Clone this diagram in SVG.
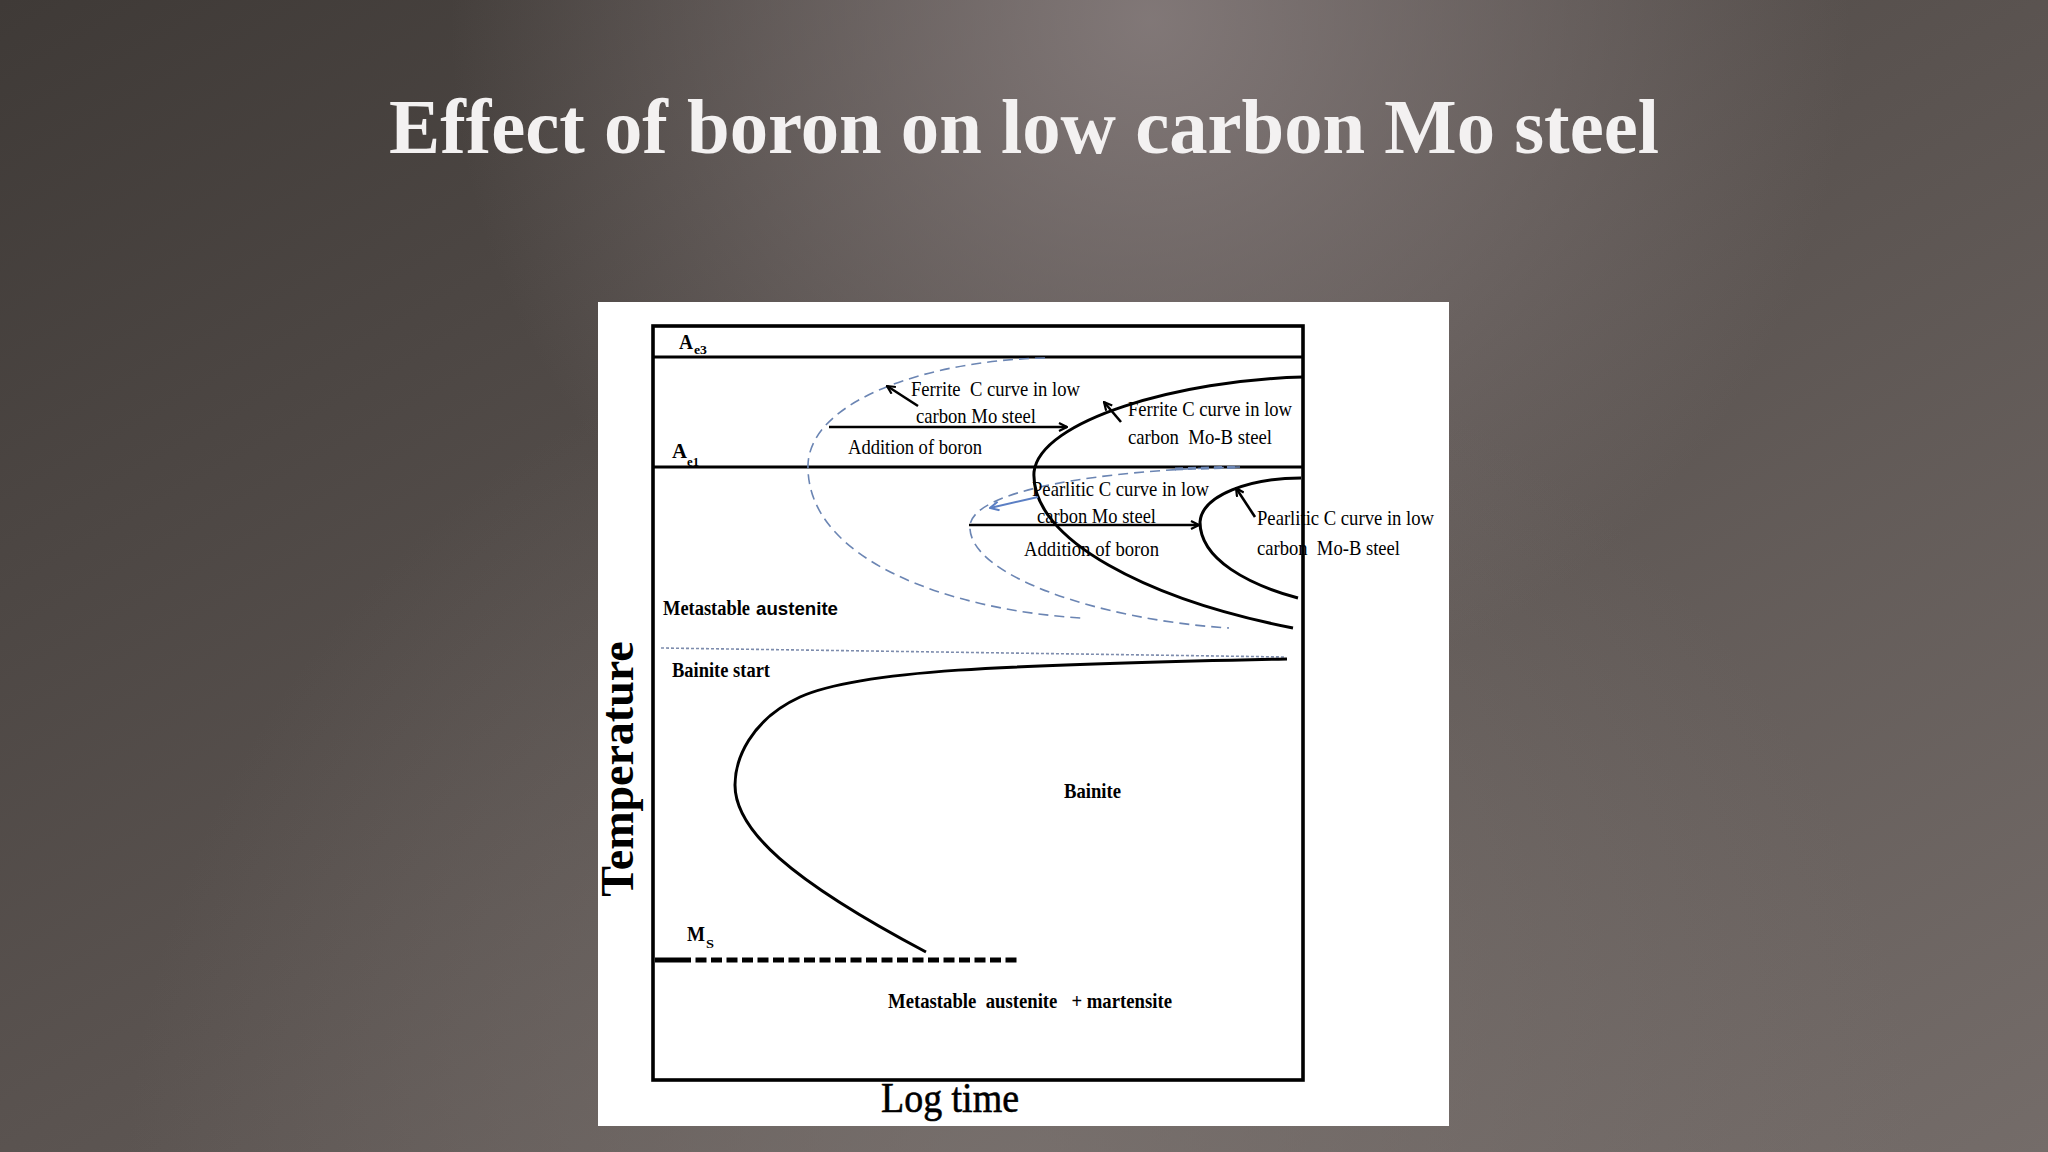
<svg xmlns="http://www.w3.org/2000/svg" width="2048" height="1152" viewBox="0 0 2048 1152">
  <defs>
    <linearGradient id="bg" x1="0" y1="0" x2="1" y2="1">
      <stop offset="0" stop-color="#3f3a37"/>
      <stop offset="0.5" stop-color="#5a5350"/>
      <stop offset="1" stop-color="#746c69"/>
    </linearGradient>
    <radialGradient id="hl" cx="1150" cy="20" r="700" gradientUnits="userSpaceOnUse">
      <stop offset="0" stop-color="#8a8080" stop-opacity="0.85"/>
      <stop offset="1" stop-color="#8a8080" stop-opacity="0"/>
    </radialGradient>
    <radialGradient id="hl2" cx="1024" cy="1200" r="900" gradientUnits="userSpaceOnUse">
      <stop offset="0" stop-color="#7e7673" stop-opacity="0.7"/>
      <stop offset="1" stop-color="#7e7673" stop-opacity="0"/>
    </radialGradient>
    <marker id="ah" viewBox="0 0 10 10" refX="9" refY="5" markerWidth="10" markerHeight="10" markerUnits="userSpaceOnUse" orient="auto">
      <path d="M1,1 L9,5 L1,9" fill="none" stroke="#000" stroke-width="2.2"/>
    </marker>
    <marker id="ahb" viewBox="0 0 10 10" refX="9" refY="5" markerWidth="11" markerHeight="11" markerUnits="userSpaceOnUse" orient="auto">
      <path d="M1,1 L9,5 L1,9" fill="none" stroke="#5b7fc4" stroke-width="1.8"/>
    </marker>
  </defs>
  <style>
    .serif { font-family: "Liberation Serif", "Times New Roman", serif; fill: #000; }
    .lbl { font-size: 21.5px; }
    .bold { font-weight: bold; }
    .sans { font-family: "Liberation Sans", Arial, sans-serif; font-weight: bold; fill: #000; }
    .pre { white-space: pre; }
    .curve { fill: none; stroke: #000; stroke-width: 3; }
    .dash { fill: none; stroke: #6b85b3; stroke-width: 1.6; stroke-dasharray: 10 6; }
    .arrow { fill: none; stroke: #000; stroke-width: 2.6; marker-end: url(#ah); }
    .hline { stroke: #000; stroke-width: 3; }
  </style>

  <rect x="0" y="0" width="2048" height="1152" fill="url(#bg)"/>
  <rect x="0" y="0" width="2048" height="1152" fill="url(#hl)"/>
  <rect x="0" y="0" width="2048" height="1152" fill="url(#hl2)"/>

  <g id="title">
    <text x="1024" y="153" text-anchor="middle" class="serif bold" style="fill:#f3f1f1" font-size="78" textLength="1270" lengthAdjust="spacingAndGlyphs">Effect of boron on low carbon Mo steel</text>
  </g>

  <g id="panel">
    <rect x="598" y="302" width="851" height="824" fill="#ffffff"/>
  </g>

  <g id="frame">
    <rect x="653" y="326" width="650" height="754" fill="none" stroke="#000" stroke-width="3.6"/>
    <line class="hline" x1="653" y1="357" x2="1303" y2="357"/>
    <line class="hline" x1="653" y1="467" x2="1303" y2="467"/>
  </g>

  <g id="axis-labels">
    <text class="serif bold" font-size="46" transform="translate(633,769) rotate(-90)" text-anchor="middle">Temperature</text>
    <text class="serif" font-size="43" x="881" y="1112" textLength="138" lengthAdjust="spacingAndGlyphs" stroke="#000" stroke-width="0.6">Log time</text>
  </g>

  <g id="equilibrium-labels">
    <text class="serif bold" font-size="22" x="679" y="349" textLength="14" lengthAdjust="spacingAndGlyphs">A</text>
    <text class="serif bold" font-size="13" x="694" y="354" textLength="13" lengthAdjust="spacingAndGlyphs">e3</text>
    <text class="serif bold" font-size="22" x="672" y="458" textLength="15" lengthAdjust="spacingAndGlyphs">A</text>
    <text class="serif bold" font-size="13" x="687" y="466" textLength="12" lengthAdjust="spacingAndGlyphs">e1</text>
    <text class="serif bold" font-size="22" x="687" y="941" textLength="18" lengthAdjust="spacingAndGlyphs">M</text>
    <text class="serif bold" font-size="13" x="706" y="948" textLength="8" lengthAdjust="spacingAndGlyphs">S</text>
  </g>

  <g id="ferrite-mo-curve">
    <path class="dash" d="M1045,358 C930,360 810,400 808,465 C806,560 950,610 1081,618"/>
  </g>
  <g id="pearlite-mo-curve">
    <path class="dash" d="M1240,467 C1100,470 975,490 970,525 C966,575 1100,620 1229,628"/>
    <line x1="1175" y1="469" x2="1240" y2="467" stroke="#6b85b3" stroke-width="3" stroke-dasharray="8 5"/>
  </g>
  <g id="ferrite-mob-curve">
    <path class="curve" d="M1303,377 C1180,380 1040,420 1034,472 C1030,540 1150,600 1293,628"/>
  </g>
  <g id="pearlite-mob-curve">
    <path class="curve" d="M1301,478 C1250,478 1202,495 1200,522 C1200,560 1250,585 1298,598"/>
  </g>
  <g id="bainite-start-line">
    <line x1="661" y1="648" x2="1286" y2="657" stroke="#7d8cad" stroke-width="1.6" stroke-dasharray="3 2"/>
  </g>
  <g id="bainite-curve">
    <path class="curve" d="M1287,659 C1000,665 860,670 800,697 C750,720 735,760 735,785 C735,830 790,880 926,952"/>
  </g>
  <g id="ms-line">
    <line x1="655" y1="960" x2="680" y2="960" stroke="#000" stroke-width="5"/>
    <line x1="680" y1="960" x2="1017" y2="960" stroke="#000" stroke-width="5" stroke-dasharray="11 4.5"/>
  </g>

  <g id="connectors">
    <line class="arrow" x1="918" y1="406" x2="887" y2="386"/>
    <line class="arrow" x1="829" y1="427" x2="1067" y2="427"/>
    <line class="arrow" x1="1121" y1="422" x2="1104" y2="402"/>
    <line class="arrow" x1="969" y1="525" x2="1199" y2="525"/>
    <line class="arrow" x1="1255" y1="517" x2="1236" y2="488"/>
    <line x1="1038" y1="497" x2="990" y2="508" fill="none" stroke="#5b7fc4" stroke-width="2" marker-end="url(#ahb)"/>
  </g>

  <g id="ferrite-labels">
    <text class="serif lbl pre" x="911" y="396" textLength="169" lengthAdjust="spacingAndGlyphs">Ferrite  C curve in low</text>
    <text class="serif lbl" x="916" y="423" textLength="120" lengthAdjust="spacingAndGlyphs">carbon Mo steel</text>
    <text class="serif lbl" x="848" y="454" textLength="134" lengthAdjust="spacingAndGlyphs">Addition of boron</text>
    <text class="serif lbl" x="1128" y="416" textLength="164" lengthAdjust="spacingAndGlyphs">Ferrite C curve in low</text>
    <text class="serif lbl pre" x="1128" y="444" textLength="144" lengthAdjust="spacingAndGlyphs">carbon  Mo-B steel</text>
  </g>

  <g id="pearlite-labels">
    <text class="serif lbl" x="1032" y="496" textLength="177" lengthAdjust="spacingAndGlyphs">Pearlitic C curve in low</text>
    <text class="serif lbl" x="1037" y="523" textLength="119" lengthAdjust="spacingAndGlyphs">carbon Mo steel</text>
    <text class="serif lbl" x="1024" y="556" textLength="135" lengthAdjust="spacingAndGlyphs">Addition of boron</text>
    <text class="serif lbl" x="1257" y="525" textLength="177" lengthAdjust="spacingAndGlyphs">Pearlitic C curve in low</text>
    <text class="serif lbl pre" x="1257" y="555" textLength="143" lengthAdjust="spacingAndGlyphs">carbon  Mo-B steel</text>
  </g>

  <g id="region-labels">
    <text class="serif bold" font-size="20.5" x="663" y="615" textLength="87" lengthAdjust="spacingAndGlyphs">Metastable</text>
    <text class="sans" font-size="19" x="756" y="615" textLength="82" lengthAdjust="spacingAndGlyphs">austenite</text>
    <text class="serif bold" font-size="20.5" x="672" y="677" textLength="98" lengthAdjust="spacingAndGlyphs">Bainite start</text>
    <text class="serif bold" font-size="21" x="1064" y="798" textLength="57" lengthAdjust="spacingAndGlyphs">Bainite</text>
    <text class="serif bold pre" font-size="21" x="888" y="1008" textLength="284" lengthAdjust="spacingAndGlyphs">Metastable  austenite   + martensite</text>
  </g>
</svg>
